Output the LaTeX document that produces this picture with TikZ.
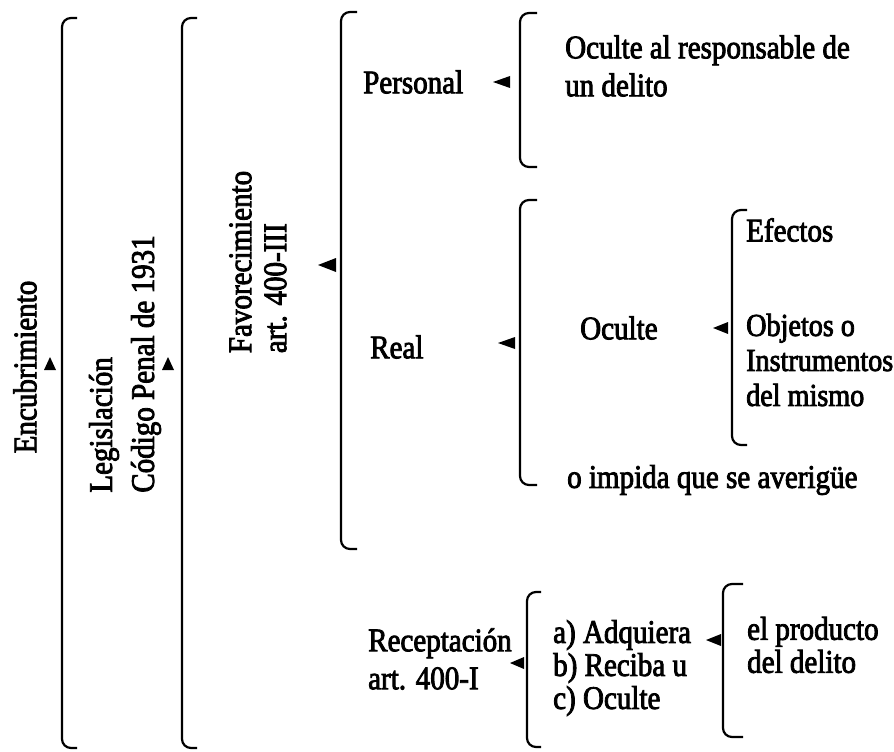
\documentclass[tikz,border=0pt]{standalone}
\usepackage{fontspec}
\setmainfont{Liberation Serif}[FakeStretch=0.88,FakeBold=2.5]

\begin{document}
\begin{tikzpicture}[x=1pt,y=-1pt,
  txt/.style={font=\fontsize{33}{36}\selectfont, inner sep=0pt, anchor=west, align=left},
  vtxt/.style={txt, anchor=center, rotate=90},
  brk/.style={line width=2.2pt, rounded corners=9pt},
  pointer/.style={fill=black}
]
  \useasboundingbox (0,0) rectangle (894,752);

  \node[vtxt] (enc) at (25,367) {Encubrimiento};
  \node[vtxt, font=\fontsize{33}{42}\selectfont] (leg) at (125,364) {Legislaci\'on\\C\'odigo Penal de 1931};
  \node[vtxt, font=\fontsize{33}{35}\selectfont] (fav) at (258,262) {Favorecimiento\\art. 400-III};
  \node[txt] (pers) at (363,82) {Personal};
  \node[txt] (real) at (370,347) {Real};
  \node[txt, font=\fontsize{33}{38}\selectfont] (resp) at (565,66) {Oculte al responsable de\\un delito};
  \node[txt] (ocul) at (580,328) {Oculte};
  \node[txt] (efec) at (746,230) {Efectos};
  \node[txt, font=\fontsize{32}{35}\selectfont] (objs) at (746,360) {Objetos o\\Instrumentos\\del mismo};
  \node[txt] (impi) at (567,480) {o impida que se averig\"ue};
  \node[txt, font=\fontsize{33}{38}\selectfont] (rece) at (368,659) {Receptaci\'on\\art. 400-I};
  \node[txt, font=\fontsize{33}{33}\selectfont] (acts) at (553,668) {a) Adquiera\\b) Reciba u\\c) Oculte};
  \node[txt, font=\fontsize{33}{33}\selectfont] (prod) at (747,645) {el producto\\del delito};

  % llaves
  \draw[brk] (77,18) -- (62,18) -- (62,748) -- (77,748);
  \draw[brk] (197,18) -- (182,18) -- (182,748) -- (197,748);
  \draw[brk] (357,12) -- (341,12) -- (341,549) -- (357,549);
  \draw[brk] (537,13) -- (520,13) -- (520,167) -- (537,167);
  \draw[brk] (537,200) -- (520,200) -- (520,485) -- (537,485);
  \draw[brk] (747,210) -- (732,210) -- (732,445) -- (747,445);
  \draw[brk] (541,592) -- (527,592) -- (527,747) -- (541,747);
  \draw[brk] (743,584) -- (723,584) -- (723,737) -- (743,737);

  % flechas
  \fill[pointer] (50,357) -- (56,370) -- (44,370) -- cycle;
  \fill[pointer] (168,357) -- (174,370) -- (162,370) -- cycle;
  \fill[pointer] (318,265) -- (336,258) -- (336,272) -- cycle;
  \fill[pointer] (493,82) -- (510,76) -- (510,88) -- cycle;
  \fill[pointer] (498,343) -- (515,337) -- (515,349) -- cycle;
  \fill[pointer] (713,328) -- (728,322) -- (728,334) -- cycle;
  \fill[pointer] (510,663) -- (524,657) -- (524,669) -- cycle;
  \fill[pointer] (706,640) -- (721,634) -- (721,646) -- cycle;
\end{tikzpicture}
\end{document}
